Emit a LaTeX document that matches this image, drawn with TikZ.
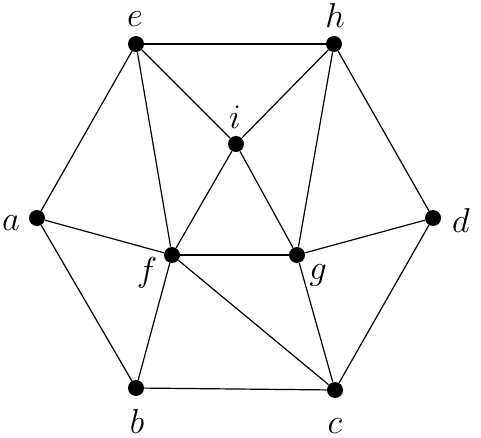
\documentclass[tikz,border=0pt]{standalone}
\begin{document}
\begin{tikzpicture}[x=0.5pt,y=-0.5pt,
  vtx/.style={circle,fill=black,inner sep=0pt,minimum size=8pt},
  lbl/.style={inner sep=0pt,font=\fontsize{16}{18}\selectfont},
  edge/.style={line width=0.6pt}]
\useasboundingbox (0,0) rectangle (481,438);
\node[vtx] (e) at (136,44) {};
\node[vtx] (h) at (334,44) {};
\node[vtx] (i) at (236,144) {};
\node[vtx] (a) at (37,218) {};
\node[vtx] (d) at (433,218) {};
\node[vtx] (f) at (172,255) {};
\node[vtx] (g) at (297,255) {};
\node[vtx] (b) at (136,388) {};
\node[vtx] (c) at (335,390) {};
\node[lbl] (le) at (135,19) {$e$};
\node[lbl] (lh) at (335,16) {$h$};
\node[lbl] (li) at (235,117) {$i$};
\node[lbl] (la) at (11,223) {$a$};
\node[lbl] (ld) at (461,221) {$d$};
\node[lbl] (lf) at (147,273) {$f$};
\node[lbl] (lg) at (318,275) {$g$};
\node[lbl] (lb) at (137,421) {$b$};
\node[lbl] (lc) at (335,426) {$c$};
\foreach \u/\v in {e/h,e/a,e/f,e/i,h/i,h/g,h/d,i/f,i/g,a/f,a/b,f/g,f/b,f/c,g/c,g/d,d/c,b/c}
  \draw[edge] (\u) -- (\v);
\end{tikzpicture}
\end{document}
